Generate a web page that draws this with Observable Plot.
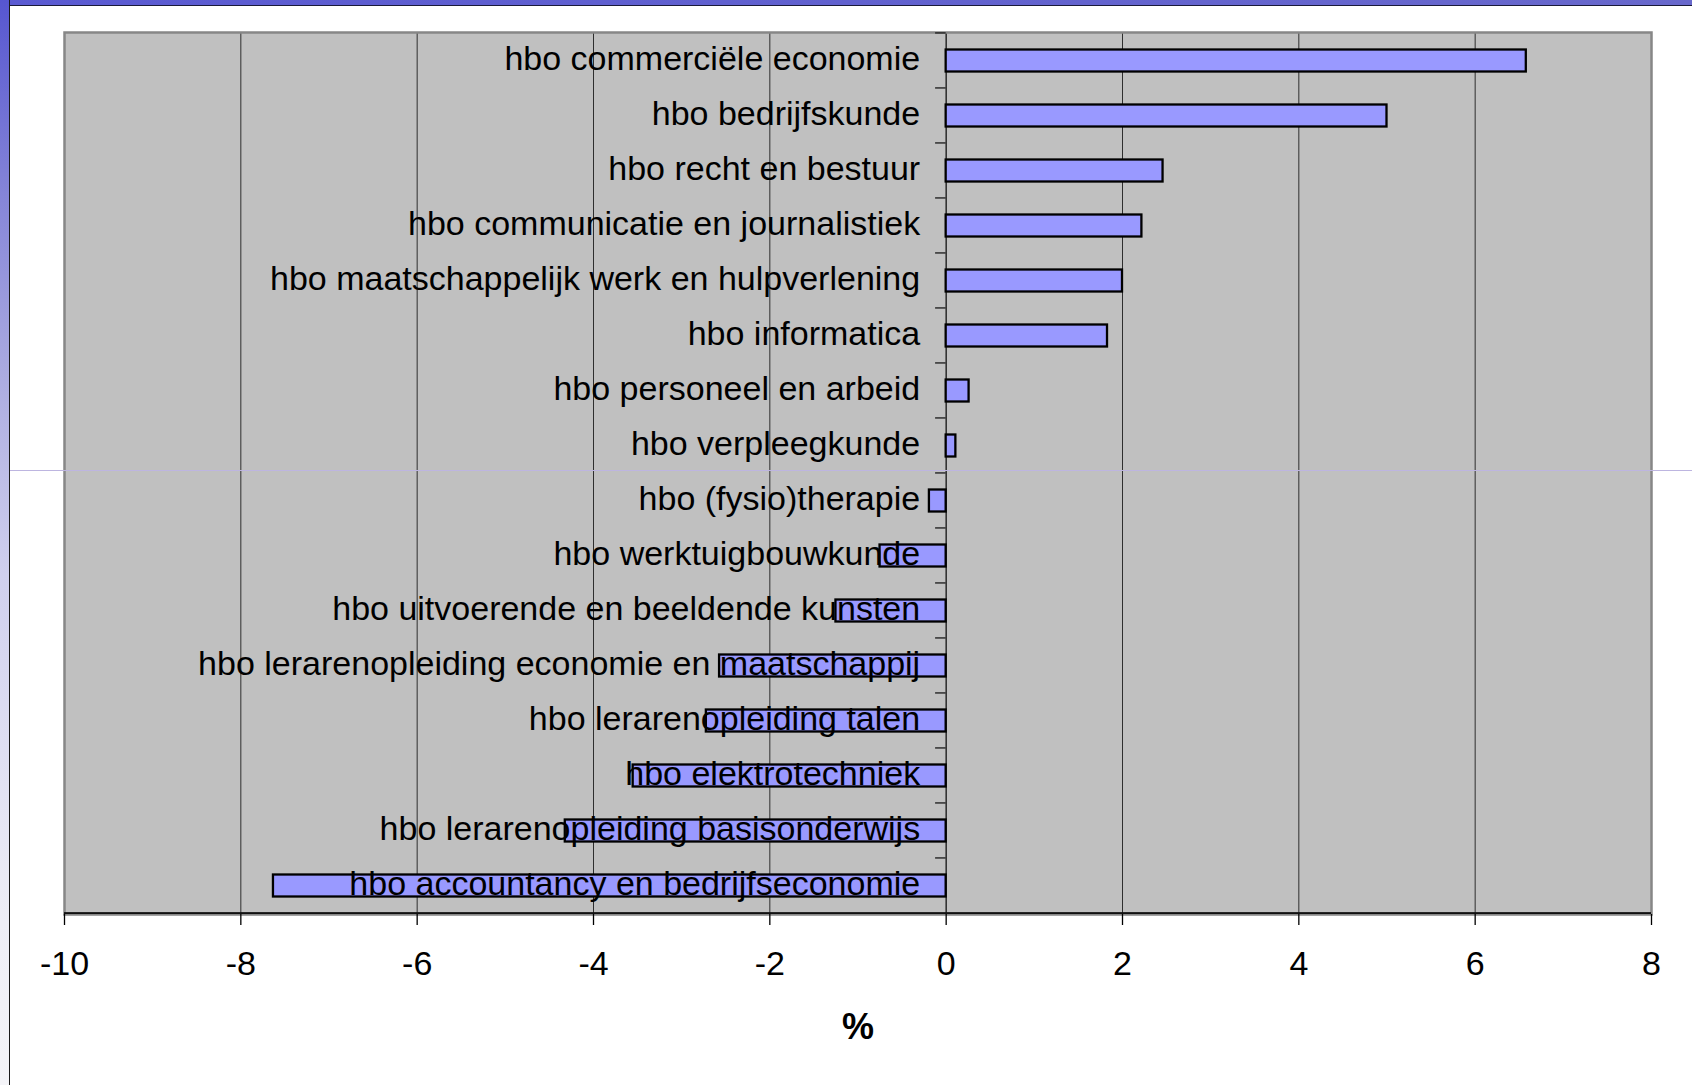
<!DOCTYPE html>
<html>
<head>
<meta charset="utf-8">
<script src="https://cdn.jsdelivr.net/npm/d3@7"></script>
<script src="https://cdn.jsdelivr.net/npm/@observablehq/plot@0.6"></script>
<style>
  html, body { margin: 0; padding: 0; background: #ffffff; overflow: hidden; }
  #wrap { position: relative; width: 1692px; height: 1085px; }
  #chart { position: absolute; left: 0; top: 0; }
  .deco { position: absolute; z-index: 5; }
</style>
</head>
<body>
<div id="wrap">
  <div id="chart"></div>
  <div class="deco" style="left:0;top:0;width:1692px;height:5px;background:linear-gradient(to right,#5a5ad2,#6868cc);border-bottom:1.5px solid #1a1a3a;"></div>
  <div class="deco" style="left:0;top:0;width:9px;height:1085px;background:linear-gradient(to bottom,#5656d0 0%,#8585d8 18%,#b0b0e2 37%,#d0d0ee 53%,#eeeef6 85%,#f4f4f8 100%);border-right:1.5px solid #1a1a1a;"></div>
  <div class="deco" style="left:10px;top:470px;width:1682px;height:1px;background:#bdb5e0;"></div>
</div>
<script>
const categories = [
  "hbo commerciële economie",
  "hbo bedrijfskunde",
  "hbo recht en bestuur",
  "hbo communicatie en journalistiek",
  "hbo maatschappelijk werk en hulpverlening",
  "hbo informatica",
  "hbo personeel en arbeid",
  "hbo verpleegkunde",
  "hbo (fysio)therapie",
  "hbo werktuigbouwkunde",
  "hbo uitvoerende en beeldende kunsten",
  "hbo lerarenopleiding economie en maatschappij",
  "hbo lerarenopleiding talen",
  "hbo elektrotechniek",
  "hbo lerarenopleiding basisonderwijs",
  "hbo accountancy en bedrijfseconomie"
];
const values = [6.58, 5.0, 2.46, 2.22, 2.0, 1.83, 0.26, 0.11, -0.19, -0.75, -1.25, -2.57, -2.72, -3.55, -4.32, -7.63];
const xTicks = [-10, -8, -6, -4, -2, 0, 2, 4, 6, 8];
const gridTicks = [-8, -6, -4, -2, 2, 4, 6];
const xLabel = "%";

const data = categories.map((c, i) => ({category: c, value: values[i]}));

const W = 1692, H = 1085, mL = 64, mR = 41, mT = 32, mB = 171;
const step = (H - mT - mB) / categories.length;
const font = "'Liberation Sans', Arial, Helvetica, sans-serif";

const chart = Plot.plot({
  width: W,
  height: H,
  marginLeft: mL,
  marginRight: mR,
  marginTop: mT,
  marginBottom: mB,
  style: {fontFamily: font, background: "transparent", overflow: "visible", color: "black"},
  x: {domain: [-10, 8], axis: null},
  y: {domain: categories, padding: 0, axis: null},
  marks: [
    Plot.frame({fill: "#c0c0c0", stroke: null}),
    Plot.ruleX(gridTicks, {stroke: "#2e2e2e", strokeWidth: 1}),
    Plot.ruleX([0], {stroke: "#1e1e1e", strokeWidth: 1.4}),
    Plot.frame({stroke: "#878787", strokeWidth: 2.5, fill: null}),
    // x axis line at the bottom of the plot area
    Plot.barX([categories[categories.length - 1]], {x1: -10, x2: 8, y: d => d, fill: "#111", insetTop: step - 1, insetBottom: -1}),
    // category tick marks on the zero axis (at band boundaries)
    Plot.barX(categories, {x1: -0.12, x2: 0, y: d => d, fill: "#222", insetTop: -0.75, insetBottom: step - 0.75}),
    Plot.barX(data, {x: "value", y: "category", fill: "#9999ff", stroke: "#000", strokeWidth: 2.3, insetTop: 16.5, insetBottom: 16.5}),
    Plot.text(data, {x: 0, y: "category", text: "category", dx: -26, dy: -1.5, textAnchor: "end", lineAnchor: "middle", fontSize: 34, fill: "#000"}),
    Plot.axisX({ticks: xTicks, tickFormat: d => String(d), tickSize: 11, tickPadding: 25, fontSize: 34, stroke: "#000", strokeWidth: 1.3, label: null, anchor: "bottom"}),
    Plot.text([xLabel], {frameAnchor: "bottom", dy: 113, text: d => d, fontSize: 36, fontWeight: "bold", lineAnchor: "middle", fill: "#000"})
  ]
});
document.getElementById("chart").appendChild(chart);
</script>
</body>
</html>
